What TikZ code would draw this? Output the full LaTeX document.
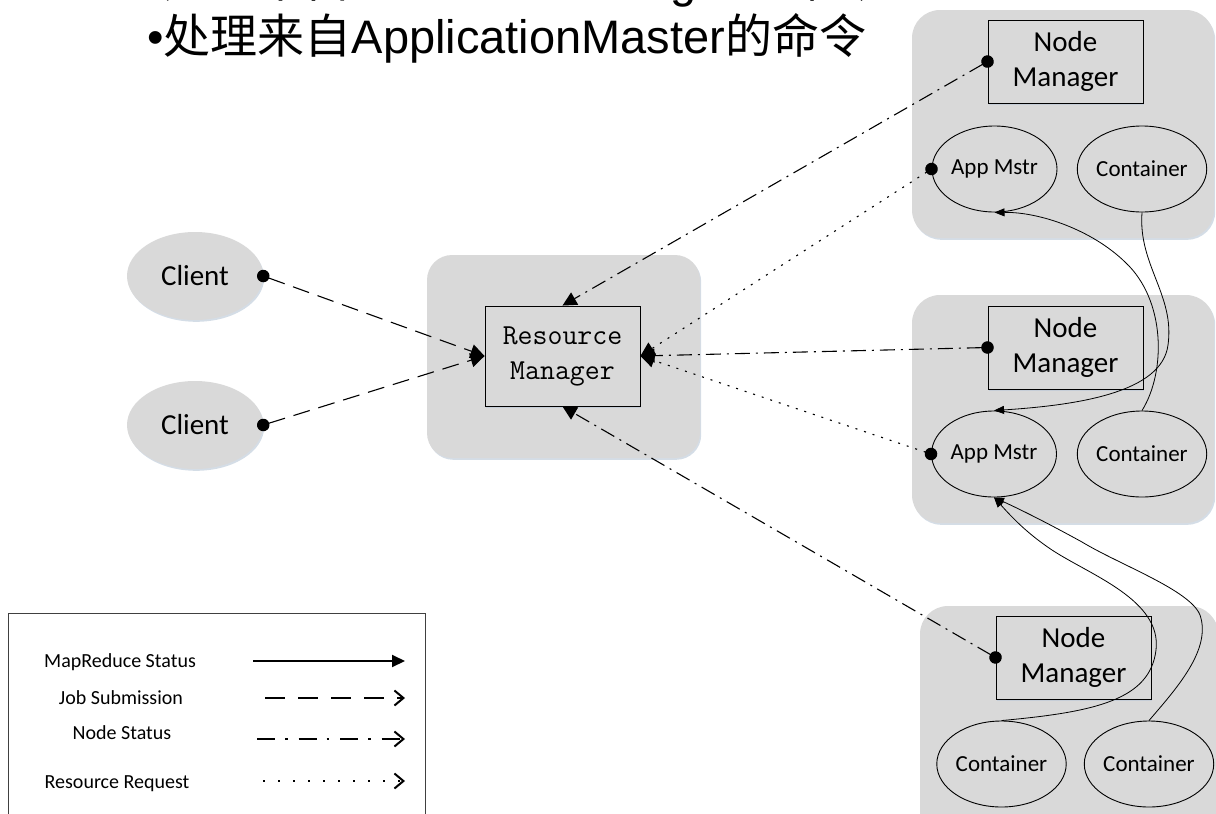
\documentclass[tikz,border=0pt]{standalone}
\usepackage{fontspec}
\setmainfont{Carlito}
\newfontfamily\cjkf{Noto Sans CJK SC}
\newfontfamily\arialf{Liberation Sans}
\usetikzlibrary{arrows.meta,shapes.geometric,shadows}
\definecolor{boxgray}{HTML}{D9D9D9}
\definecolor{shadowc}{HTML}{B8C6D6}
\definecolor{legborder}{HTML}{404040}
\begin{document}
\begin{tikzpicture}[x=1pt,y=-1pt,
  shad/.style={drop shadow={shadow xshift=1.2pt,shadow yshift=-1.8pt,fill=shadowc,opacity=0.6}},
  groupbox/.style={shad,fill=boxgray,draw=none,rounded corners=28pt,inner sep=0pt},
  mgrbox/.style={shad,fill=boxgray,draw=black,line width=0.9pt,inner sep=0pt,align=center,
    minimum width=155pt,minimum height=83pt,font=\fontsize{29}{35}\selectfont},
  clientell/.style={ellipse,shad,fill=boxgray,draw=none,minimum width=136pt,minimum height=88pt,
    inner sep=0pt,font=\fontsize{29}{35}\selectfont},
  smallell/.style={ellipse,fill=boxgray,draw=black,line width=0.9pt,minimum width=126pt,
    minimum height=86pt,inner sep=0pt,font=\fontsize{23}{28}\selectfont},
  conn/.style={line width=1.1pt,{Circle[length=12.5pt]}-{Triangle[length=14pt,width=14pt]},shorten <=-6.2pt},
  jobsub/.style={conn,dash pattern=on 17pt off 9pt},
  nodestat/.style={conn,dash pattern=on 15pt off 6pt on 2pt off 6pt},
  resreq/.style={conn,dash pattern=on 2pt off 7pt},
  mrstat/.style={line width=0.8pt,-{Triangle[length=10pt,width=8pt]}},
  legtext/.style={anchor=base,inner sep=0pt,font=\fontsize{20}{24}\selectfont},
  legline/.style={line width=2pt},
  titletext/.style={anchor=base west,inner sep=0pt,font=\arialf\fontsize{47}{56}\selectfont},
]
\useasboundingbox (0,0) rectangle (1216,814);
\clip (0,0) rectangle (1216,814);

% title lines
\node[titletext] (title1) at (147,-3) {•{\cjkf 处理来自}ResourceManager{\cjkf 的命令}};
\node[titletext] (title2) at (147,53) {•{\cjkf 处理来自}ApplicationMaster{\cjkf 的命令}};

% group containers
\node[groupbox,rounded corners=25pt,minimum width=273pt,minimum height=203pt] (rmgroup) at (563.5,356.5) {};
\node[groupbox,minimum width=302pt,minimum height=228pt] (g1) at (1063,124) {};
\node[groupbox,minimum width=302pt,minimum height=228pt] (g2) at (1063,409) {};
\node[groupbox,minimum width=298pt,minimum height=244pt] (g3) at (1069,728) {};

% clients
\node[clientell] (cl1) at (195,276) {Client};
\node[clientell] (cl2) at (195,425) {Client};

% resource manager
\node[mgrbox,minimum width=155pt,minimum height=100pt,font=\ttfamily\fontsize{29}{35}\selectfont] (rm) at (562.5,356) {Resource\\Manager};

% node managers
\node[mgrbox] (nm1) at (1065.5,61.5) {Node\\Manager};
\node[mgrbox] (nm2) at (1065.5,347.5) {Node\\Manager};
\node[mgrbox] (nm3) at (1073.5,657.5) {Node\\Manager};

% app masters and containers
\node[smallell,minimum width=125pt] (am1) at (994.5,169) {App Mstr};
\node[smallell] (c1) at (1142,169) {Container};
\node[smallell,minimum width=125pt] (am2) at (994,454) {App Mstr};
\node[smallell] (c2) at (1142,454) {Container};
\node[smallell,minimum width=127pt] (c3a) at (1001.5,764) {Container};
\node[smallell,minimum width=128pt] (c3b) at (1149,764) {Container};

% job submission
\draw[jobsub] (cl1.east) -- (rm.west);
\draw[jobsub] (cl2.east) -- (rm.west);

% node status
\draw[nodestat] (nm1.west) -- (rm.north);
\draw[nodestat] (nm2.west) -- (rm.east);
\draw[nodestat] (nm3.west) -- (rm.south);

% resource request
\draw[resreq] (am1.west) -- (rm.east);
\draw[resreq] (am2.west) -- (rm.east);

% mapreduce status
\draw[mrstat] (c1.south) .. controls (1138,265) and (1175,295) .. (1168,345)
   .. controls (1162,392) and (1080,405) .. (am2.north);
\draw[mrstat] (c2.north) .. controls (1166,372) and (1166,300) .. (1125,262)
   .. controls (1092,230) and (1040,212) .. (am1.south);
\draw[mrstat] (c3a.north) .. controls (1095,712) and (1150,700) .. (1156,650)
   .. controls (1162,600) and (1090,575) .. (1052,550)
   .. controls (1025,532) and (1010,515) .. (am2.south);
\draw[mrstat] (c3b.north) .. controls (1175,690) and (1212,650) .. (1200,615)
   .. controls (1190,590) and (1120,565) .. (1082,542)
   .. controls (1042,520) and (1015,507) .. (am2.south);

% legend
\node[draw=legborder,line width=1pt,fill=white,minimum width=417pt,minimum height=230pt,inner sep=0pt] (legend) at (216.5,728) {};
\node[legtext] (lt1) at (120,667) {MapReduce Status};
\node[legtext] (lt2) at (121,704) {Job Submission};
\node[legtext] (lt3) at (122,739) {Node Status};
\node[legtext] (lt4) at (117,788) {Resource Request};
\coordinate (l1a) at (253,661); \coordinate (l1b) at (405,661);
\coordinate (l2a) at (265,698); \coordinate (l2b) at (405,698);
\coordinate (l3a) at (257,739); \coordinate (l3b) at (405,739);
\coordinate (l4a) at (263,781); \coordinate (l4b) at (405,781);
\draw[legline,-{Triangle[length=13pt,width=12pt]}] (l1a) -- (l1b);
\draw[legline,dash pattern=on 20pt off 13pt,-{Straight Barb[length=9pt,width=15pt]}] (l2a) -- (l2b);
\draw[legline,dash pattern=on 18pt off 10pt on 2.5pt off 11pt,-{Straight Barb[length=9pt,width=15pt]}] (l3a) -- (l3b);
\draw[legline,line width=1.6pt,dash pattern=on 1.8pt off 13.2pt,-{Straight Barb[length=9pt,width=15pt,line width=2pt]}] (l4a) -- (l4b);
\end{tikzpicture}
\end{document}
